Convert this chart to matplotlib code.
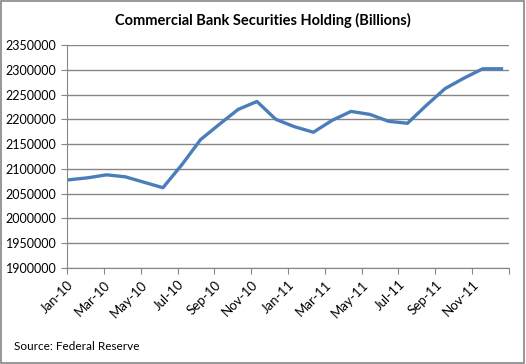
import matplotlib.pyplot as plt
from matplotlib.patches import Rectangle

plt.rcParams['font.family'] = ['Lato', 'DejaVu Sans']

# monthly holdings, Jan-10 .. Dec-11
months = ['Jan-10', 'Feb-10', 'Mar-10', 'Apr-10', 'May-10', 'Jun-10',
          'Jul-10', 'Aug-10', 'Sep-10', 'Oct-10', 'Nov-10', 'Dec-10',
          'Jan-11', 'Feb-11', 'Mar-11', 'Apr-11', 'May-11', 'Jun-11',
          'Jul-11', 'Aug-11', 'Sep-11', 'Oct-11', 'Nov-11', 'Dec-11']
holdings = [2078000, 2082000, 2088000, 2084000, 2073000, 2062000,
            2108000, 2159000, 2190000, 2220000, 2236000, 2200000,
            2185000, 2174000, 2198000, 2216000, 2210000, 2196000,
            2192000, 2228000, 2262000, 2283000, 2302000, 2302000]
yticks = list(range(1900000, 2350001, 50000))
tick_labels = months[::2]

fig = plt.figure(figsize=(5.26, 3.64), dpi=100)
ax = fig.add_axes([67/526, 1 - 268/364, (509-67)/526, (268-45)/364])

x = list(range(len(months)))
ax.plot(x, holdings, color='#4a7ebb', linewidth=2.4, solid_joinstyle='round')

ax.set_ylim(1900000, 2350000)
ax.set_yticks(yticks)
ax.set_yticklabels([str(v) for v in yticks], fontsize=9)
ax.set_xlim(-0.1, 23.4)
# excel date axis: ticks spaced a bit tighter than the monthly points
step = 23.5 / 12
ax.set_xticks([-0.1 + k * step for k in range(13)])
ax.set_xticklabels(tick_labels + [''], rotation=45, ha='right', rotation_mode='anchor', fontsize=9.5)

ax.grid(axis='y', color='#868686', linewidth=1)
ax.set_axisbelow(True)
for s in ['top', 'right']:
    ax.spines[s].set_visible(False)
for s in ['left', 'bottom']:
    ax.spines[s].set_color('#868686')
ax.tick_params(colors='#868686', labelcolor='black', length=4, direction='out')

fig.text(0.5, 1 - 20/364, 'Commercial Bank Securities Holding (Billions)',
         ha='center', va='center', fontsize=10.5, fontweight='bold')
fig.text(14/526, 1 - 346/364, 'Source: Federal Reserve', ha='left', va='center', fontsize=8.5)

fig.patches.append(Rectangle((0.002, 0.003), 0.995, 0.994, transform=fig.transFigure,
                             fill=False, edgecolor='#868686', linewidth=1.2))

plt.savefig('out.png', dpi=100)
